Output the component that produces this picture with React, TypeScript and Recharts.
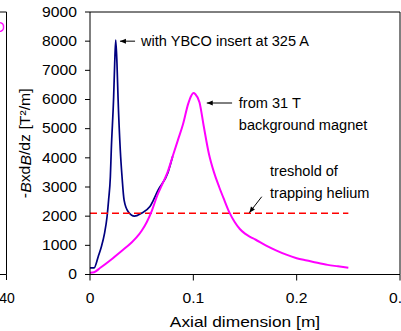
import React from "react";
import { Line, LineChart, ReferenceDot, ReferenceLine, XAxis, YAxis } from "recharts";

// magnet profile
const magentaX = [0, 0.004, 0.01, 0.02, 0.03, 0.04, 0.045, 0.05, 0.055, 0.06, 0.065, 0.07, 0.075, 0.08, 0.085, 0.09, 0.095, 0.098, 0.1, 0.102, 0.106, 0.11, 0.115, 0.12, 0.125, 0.13, 0.135, 0.14, 0.145, 0.15, 0.155, 0.16, 0.17, 0.18, 0.19, 0.2, 0.21, 0.22, 0.23, 0.24, 0.25];
const magentaY = [60, 80, 230, 500, 790, 1090, 1270, 1500, 1800, 2200, 2700, 3100, 3500, 4050, 4600, 5150, 5850, 6130, 6220, 6180, 5900, 5100, 4150, 3500, 3000, 2550, 2120, 1800, 1560, 1400, 1290, 1200, 1000, 830, 680, 560, 480, 400, 330, 280, 230];

const blueX = [0, 0.004, 0.008, 0.011, 0.014, 0.0165, 0.018, 0.0197, 0.0206, 0.0229, 0.0239, 0.0249, 0.0261, 0.0271, 0.0293, 0.031, 0.033, 0.037, 0.043, 0.0497, 0.058, 0.066, 0.0755, 0.08];
const blueY = [230, 230, 620, 950, 1400, 1980, 2550, 3350, 4270, 6100, 7240, 8040, 7240, 6100, 4270, 3350, 2550, 2150, 2000, 2100, 2330, 2900, 3500, 4050];

const thresholdX = [0, 0.25];
const thresholdY = [2100, 2100];

const xTicks = [0, 0.1, 0.2, 0.3];
const xTickLabels = ["0", "0.1", "0.2", "0.3"];
const yTicks = [0, 1000, 2000, 3000, 4000, 5000, 6000, 7000, 8000, 9000];

const zip = (xs: number[], ys: number[]) => xs.map((x, i) => ({ x, y: ys[i] }));
const magentaData = zip(magentaX, magentaY);
const blueData = zip(blueX, blueY);
const thresholdData = zip(thresholdX, thresholdY);

const FONT = "'Liberation Sans', Arial, sans-serif";

function YTick({ x, y, payload }: any) {
  return (
    <text
      transform={`translate(${x},${y}) scale(1.12,1)`}
      textAnchor="end"
      dominantBaseline="central"
      fontSize={14}
      fontFamily={FONT}
      fill="#000"
    >
      {payload.value}
    </text>
  );
}

function XTick({ x, y, payload }: any) {
  const i = xTicks.indexOf(payload.value);
  return (
    <text
      transform={`translate(${x},${y + 17.5}) scale(1.12,1)`}
      textAnchor="middle"
      dominantBaseline="central"
      fontSize={14}
      fontFamily={FONT}
      fill="#000"
    >
      {i >= 0 ? xTickLabels[i] : payload.value}
    </text>
  );
}

function XTitle({ viewBox }: any) {
  const cx = viewBox.x + viewBox.width / 2;
  return (
    <text
      transform={`translate(${cx},${viewBox.y + 47.5}) scale(1.24,1)`}
      textAnchor="middle"
      dominantBaseline="central"
      fontSize={14}
      fontFamily={FONT}
      fill="#000"
    >
      Axial dimension [m]
    </text>
  );
}

function YTitle({ viewBox }: any) {
  const cy = viewBox.y + viewBox.height / 2;
  return (
    <text
      transform={`translate(25,${cy}) rotate(-90) scale(1.13,1)`}
      textAnchor="middle"
      dominantBaseline="central"
      fontSize={14}
      fontFamily={FONT}
      fill="#000"
    >
      -<tspan fontStyle="italic">B</tspan>xd<tspan fontStyle="italic">B</tspan>/dz [T²/m]
    </text>
  );
}

// text placed at a data point, left aligned
const note = (lines: string[]) => (p: any) => (
  <g>
    {lines.map((t, i) => (
      <text
        key={i}
        transform={`translate(${p.cx},${p.cy + i * 22}) scale(1.04,1)`}
        dominantBaseline="central"
        fontSize={14}
        fontFamily={FONT}
        fill="#000"
      >
        {t}
      </text>
    ))}
  </g>
);

const head = (angle: number) => (p: any) => (
  <polygon
    points="0,0 6,-2.5 6,2.5"
    transform={`translate(${p.cx},${p.cy}) rotate(${angle})`}
    fill="#000"
  />
);

export default function App() {
  return (
    <div style={{ position: "absolute", left: 0, top: 0, width: 401, height: 331, background: "#fff" }}>
      {/* piece of the neighbouring panel, cut off at the left */}
      <svg width={401} height={331} style={{ position: "absolute", left: 0, top: 0 }}>
        <polyline points="0,12 6.5,12 6.5,274.5 0,274.5" fill="none" stroke="#000" strokeWidth={1} />
        <line x1={6.5} y1={274.5} x2={6.5} y2={280} stroke="#000" />
        <text x={7} y={298} textAnchor="middle" dominantBaseline="central" fontSize={14} fontFamily={FONT}>
          40
        </text>
        <text x={5} y={27} textAnchor="end" dominantBaseline="central" fontSize={14} fontFamily={FONT} fill="#ff00ff">
          O
        </text>
      </svg>
      <div style={{ position: "absolute", left: 0, top: 0 }}>
        <LineChart width={401} height={331} margin={{ top: 12, right: 1, left: 0, bottom: 0 }}>
          <XAxis
            dataKey="x"
            type="number"
            domain={[0, 0.3]}
            ticks={xTicks}
            interval={0}
            tickSize={6}
            tickMargin={0}
            height={56.5}
            stroke="#000"
            tick={<XTick />}
            label={<XTitle />}
            allowDuplicatedCategory={false}
          />
          <YAxis
            dataKey="y"
            type="number"
            domain={[0, 9000]}
            ticks={yTicks}
            interval={0}
            tickSize={5}
            tickMargin={8}
            width={90}
            stroke="#000"
            tick={<YTick />}
            label={<YTitle />}
          />
          <ReferenceLine y={9000} stroke="#000" />
          <ReferenceLine x={0.3} stroke="#000" />
          <Line
            data={blueData}
            dataKey="y"
            type="monotone"
            stroke="#000080"
            strokeWidth={1.7}
            dot={false}
            isAnimationActive={false}
          />
          <Line
            data={thresholdData}
            dataKey="y"
            type="linear"
            stroke="#ff0000"
            strokeWidth={1.4}
            strokeDasharray="7 4"
            dot={false}
            isAnimationActive={false}
          />
          <Line
            data={magentaData}
            dataKey="y"
            type="monotone"
            stroke="#ff00ff"
            strokeWidth={2}
            dot={false}
            isAnimationActive={false}
          />

          {/* annotations */}
          <ReferenceLine segment={[{ x: 0.029, y: 8000 }, { x: 0.0436, y: 8000 }]} stroke="#000" />
          <ReferenceDot x={0.029} y={8000} shape={head(0)} />
          <ReferenceDot x={0.0494} y={8000} shape={note(["with YBCO insert at 325 A"])} />

          <ReferenceLine segment={[{ x: 0.113, y: 5880 }, { x: 0.1375, y: 5880 }]} stroke="#000" />
          <ReferenceDot x={0.113} y={5880} shape={head(0)} />
          <ReferenceDot x={0.144} y={5880} shape={note(["from 31 T", "background magnet"])} />

          <ReferenceLine segment={[{ x: 0.1542, y: 2119 }, { x: 0.1662, y: 2667 }]} stroke="#000" />
          <ReferenceDot x={0.1542} y={2119} shape={head(-53)} />
          <ReferenceDot x={0.1742} y={3548} shape={note(["treshold of", "trapping helium"])} />
        </LineChart>
      </div>
    </div>
  );
}
